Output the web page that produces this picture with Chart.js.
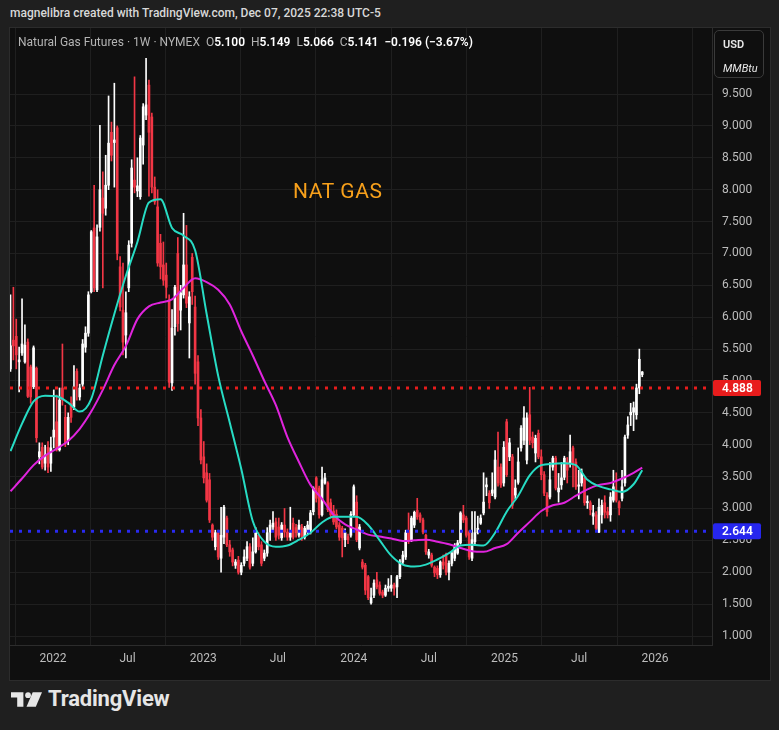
<!DOCTYPE html>
<html>
<head>
<meta charset="utf-8">
<script src="https://cdn.jsdelivr.net/npm/chart.js@4.4.1/dist/chart.umd.min.js"></script>
<style>
  html, body { margin: 0; padding: 0; width: 779px; height: 730px; overflow: hidden; background: #1f1f1f; font-family: Roboto, "Noto Sans", sans-serif; }
  #byline { position: absolute; left: 10px; top: 6px; color: #d8d8d8; font-size: 12px; font-weight: 500; white-space: nowrap; }
  #panel { position: absolute; left: 9px; top: 27px; width: 762px; height: 654px; background: #0f0f0f; border: 1px solid #2c2c2c; box-sizing: border-box; }
  #wrap { position: absolute; left: 10px; top: 28px; width: 760px; height: 652px; }
  #legend { position: absolute; left: 18px; top: 35px; font-size: 12px; color: #b4b4b4; white-space: nowrap; }
  #legend b { color: #ffffff; font-weight: 600; }
  #legend span { margin-left: 6px; }
  #unit { position: absolute; left: 714px; top: 30px; width: 50px; height: 48px; border: 1px solid #3a3a3a; border-radius: 5px; box-sizing: border-box; color: #e8e8e8; font-size: 11px; }
  #unit div { position: absolute; left: 8px; }
  #natgas { position: absolute; left: 293px; top: 179px; color: #f7a01b; font-size: 21px; letter-spacing: 0.6px; }
  #logo { position: absolute; left: 11px; top: 686px; color: #e6e6e6; font-size: 22px; font-weight: 700; white-space: nowrap; letter-spacing: -0.2px; }
  #logo svg { vertical-align: -1px; margin-right: 6px; }
</style>
</head>
<body>
<div id="byline">magnelibra created with TradingView.com, Dec 07, 2025 22:38 UTC-5</div>
<div id="panel"></div>
<div id="wrap"><canvas id="chart"></canvas></div>
<div id="legend">Natural Gas Futures · 1W · NYMEX<span>O<b>5.100</b></span><span>H<b>5.149</b></span><span>L<b>5.066</b></span><span>C<b>5.141</b></span><span><b>−0.196 (−3.67%)</b></span></div>
<div id="unit"><div style="top:7px;font-weight:600">USD</div><div style="top:31px;font-style:italic">MMBtu</div></div>
<div id="natgas">NAT GAS</div>
<div id="logo"><svg width="31" height="15" viewBox="0 0 30 14"><path d="M0 0H12V14H6V5H0Z" fill="#e6e6e6"/><circle cx="16.5" cy="2.8" r="2.8" fill="#e6e6e6"/><path d="M21 0H30L24 14H15Z" fill="#e6e6e6"/></svg>TradingView</div>

<script>
// weekly candles, first one = week of 2021-09-20 (days counted from 2022-01-01)
const firstDay = -103;

const opens = [
  5.19, 5.64, 5.70, 5.30, 5.44, 5.30, 5.61, 5.22, 4.91, 5.20,
  3.81, 3.96, 3.71, 3.96, 3.71, 4.12, 4.36, 3.92, 4.89, 4.43,
  4.07, 4.65, 4.59, 5.15, 4.75, 4.95, 5.53, 5.75, 6.40, 7.40,
  6.43, 7.41, 7.87, 7.71, 8.07, 8.90, 8.74, 8.97, 6.79, 6.11,
  5.72, 6.46, 7.16, 8.15, 7.98, 7.89, 8.70, 9.17, 9.64, 9.14,
  8.04, 7.73, 7.16, 6.82, 6.66, 6.27, 4.97, 5.85, 7.00, 6.11,
  6.35, 6.82, 5.91, 6.94, 6.16, 5.30, 4.42, 3.81, 3.56, 3.45,
  2.74, 2.40, 2.62, 2.22, 2.55, 2.85, 2.43, 2.35, 2.11, 2.19,
  2.00, 2.14, 2.22, 2.40, 2.14, 2.32, 2.58, 2.43, 2.22, 2.30,
  2.63, 2.71, 2.79, 2.71, 2.54, 2.74, 2.63, 2.55, 2.77, 2.70,
  2.58, 2.71, 2.55, 2.63, 2.66, 2.95, 3.48, 3.32, 2.90, 3.40,
  3.40, 3.09, 2.96, 2.91, 2.74, 2.69, 2.51, 2.56, 2.58, 2.90,
  3.10, 2.38, 2.16, 2.11, 1.93, 1.52, 1.64, 1.88, 1.80, 1.69,
  1.64, 1.75, 1.75, 1.80, 1.77, 1.93, 2.16, 2.24, 2.66, 2.51,
  2.74, 2.97, 2.90, 2.82, 2.58, 2.27, 2.27, 2.08, 2.06, 1.96,
  2.16, 2.27, 2.00, 2.14, 2.22, 2.30, 2.46, 2.90, 2.85, 2.63,
  2.22, 2.48, 2.62, 2.77, 2.93, 3.34, 3.24, 3.24, 3.18, 3.65,
  3.65, 3.40, 4.36, 3.81, 3.81, 3.21, 3.41, 3.95, 4.07, 3.76,
  4.47, 4.12, 3.87, 4.18, 3.81, 3.53, 3.21, 3.18, 3.65, 3.79,
  3.26, 3.37, 3.49, 3.73, 3.71, 3.95, 3.73, 3.35, 3.40, 3.48,
  3.09, 3.09, 2.88, 2.90, 2.63, 2.90, 3.09, 2.95, 2.90, 3.13,
  3.29, 3.10, 3.16, 3.40, 4.15, 4.47, 4.51, 4.47, 4.89, 5.100
];
const highs = [
  6.35, 6.47, 5.97, 5.53, 6.29, 5.88, 5.66, 5.25, 5.55, 5.22,
  4.03, 4.03, 3.99, 4.05, 4.12, 4.86, 4.78, 4.89, 5.58, 4.62,
  4.50, 4.75, 5.24, 5.19, 4.95, 5.65, 5.85, 6.40, 7.36, 8.07,
  7.45, 9.01, 8.28, 8.54, 9.47, 9.06, 9.67, 9.00, 6.95, 6.85,
  6.40, 7.20, 8.47, 9.77, 8.50, 8.85, 9.35, 10.06, 9.72, 9.20,
  8.20, 8.00, 7.30, 7.18, 6.85, 6.35, 6.12, 6.50, 7.25, 6.50,
  7.63, 7.44, 6.40, 7.00, 6.33, 5.40, 4.55, 4.05, 3.70, 3.55,
  2.76, 2.66, 2.66, 3.02, 3.05, 2.88, 2.50, 2.38, 2.20, 2.25,
  2.15, 2.35, 2.48, 2.45, 2.54, 2.70, 2.62, 2.48, 2.35, 2.70,
  2.82, 2.95, 2.85, 2.85, 2.78, 3.00, 2.68, 3.02, 2.85, 2.75,
  2.82, 2.75, 2.72, 2.80, 2.97, 3.34, 3.50, 3.35, 3.65, 3.55,
  3.42, 3.15, 3.05, 2.98, 2.78, 2.72, 2.68, 2.60, 2.95, 3.37,
  3.20, 2.75, 2.20, 2.14, 1.95, 1.75, 1.88, 2.00, 1.85, 1.72,
  1.80, 1.90, 1.95, 1.83, 1.95, 2.20, 2.33, 2.66, 2.93, 2.88,
  2.96, 3.16, 2.93, 2.85, 2.60, 2.36, 2.30, 2.10, 2.10, 2.18,
  2.27, 2.30, 2.18, 2.33, 2.45, 2.50, 2.95, 3.05, 2.88, 2.65,
  2.95, 2.95, 2.88, 2.90, 3.56, 3.48, 3.28, 3.56, 3.91, 4.20,
  3.70, 4.05, 4.40, 4.10, 3.85, 3.45, 3.95, 4.30, 4.60, 4.50,
  4.90, 4.20, 4.15, 4.23, 3.92, 3.58, 3.25, 3.72, 3.82, 3.82,
  3.55, 3.72, 3.82, 3.80, 4.15, 3.98, 3.78, 3.60, 3.62, 3.50,
  3.20, 3.12, 3.05, 2.95, 3.15, 3.13, 3.20, 3.02, 3.25, 3.60,
  3.56, 3.12, 3.60, 4.15, 4.44, 4.65, 4.67, 4.95, 5.50, 5.149
];
const lows = [
  5.15, 5.33, 5.19, 4.83, 5.40, 5.28, 4.74, 4.65, 4.88, 4.04,
  3.70, 3.62, 3.60, 3.56, 3.58, 3.95, 3.90, 3.90, 4.62, 3.97,
  4.00, 4.35, 4.55, 4.70, 4.70, 4.90, 5.45, 5.70, 6.38, 6.40,
  6.40, 7.35, 6.46, 7.60, 8.00, 8.45, 8.04, 6.90, 6.10, 5.41,
  5.36, 6.40, 7.10, 7.95, 7.89, 7.85, 8.40, 9.10, 7.90, 7.95,
  7.77, 6.80, 6.60, 6.50, 6.30, 4.90, 4.85, 5.72, 5.78, 5.80,
  6.30, 6.15, 5.36, 6.20, 4.95, 4.30, 3.70, 3.40, 3.10, 2.78,
  2.50, 2.35, 2.20, 2.00, 2.45, 2.40, 2.25, 2.10, 2.06, 1.97,
  1.96, 2.10, 2.18, 2.05, 2.10, 2.30, 2.35, 2.10, 2.18, 2.25,
  2.50, 2.65, 2.50, 2.52, 2.50, 2.55, 2.50, 2.50, 2.52, 2.55,
  2.55, 2.50, 2.52, 2.60, 2.60, 2.90, 3.10, 2.85, 2.88, 3.38,
  2.95, 2.85, 2.75, 2.68, 2.50, 2.24, 2.40, 2.45, 2.55, 2.88,
  2.48, 2.35, 2.05, 1.65, 1.57, 1.50, 1.60, 1.74, 1.64, 1.60,
  1.62, 1.70, 1.70, 1.64, 1.60, 1.90, 2.12, 2.20, 2.45, 2.48,
  2.70, 2.83, 2.78, 2.60, 2.28, 2.22, 2.08, 1.93, 1.90, 1.92,
  2.05, 1.96, 1.88, 2.10, 2.18, 2.28, 2.44, 2.78, 2.55, 2.20,
  2.18, 2.45, 2.60, 2.75, 2.90, 3.20, 3.00, 3.20, 3.15, 3.35,
  3.33, 3.35, 3.50, 3.75, 3.00, 3.15, 3.38, 3.90, 4.00, 3.70,
  4.00, 3.95, 3.73, 3.78, 3.45, 3.20, 2.88, 3.15, 3.60, 3.29,
  3.10, 3.30, 3.45, 3.40, 3.65, 3.34, 3.30, 3.15, 3.35, 3.05,
  3.00, 2.90, 2.75, 2.64, 2.62, 2.77, 2.85, 2.85, 2.80, 3.10,
  3.10, 2.90, 3.12, 3.35, 4.10, 4.30, 4.22, 4.40, 4.80, 5.066
];
const closes = [
  5.55, 5.55, 5.41, 5.33, 5.58, 5.56, 4.76, 4.75, 5.52, 4.11,
  3.89, 3.65, 3.84, 3.65, 3.95, 4.23, 3.92, 4.70, 4.70, 4.03,
  4.43, 4.43, 4.91, 4.92, 4.89, 5.58, 5.75, 6.35, 7.34, 6.46,
  7.26, 8.00, 7.63, 8.07, 8.73, 8.54, 8.78, 7.00, 6.16, 5.61,
  6.07, 7.13, 8.34, 8.04, 8.06, 8.81, 9.30, 9.33, 8.90, 8.04,
  7.81, 6.85, 6.79, 6.58, 6.47, 4.98, 5.83, 6.47, 5.90, 6.38,
  6.82, 6.22, 6.32, 6.40, 5.12, 4.42, 3.76, 3.48, 3.13, 2.82,
  2.55, 2.62, 2.24, 2.58, 3.02, 2.43, 2.32, 2.16, 2.16, 2.00,
  2.11, 2.24, 2.40, 2.08, 2.32, 2.62, 2.40, 2.14, 2.30, 2.62,
  2.74, 2.77, 2.55, 2.58, 2.74, 2.63, 2.55, 2.62, 2.55, 2.62,
  2.74, 2.55, 2.69, 2.74, 2.93, 3.32, 3.16, 2.90, 3.45, 3.48,
  2.98, 2.90, 2.79, 2.71, 2.55, 2.54, 2.62, 2.51, 2.91, 3.34,
  2.51, 2.71, 2.08, 1.72, 1.60, 1.60, 1.83, 1.77, 1.67, 1.64,
  1.75, 1.78, 1.80, 1.75, 1.93, 2.16, 2.27, 2.62, 2.51, 2.85,
  2.94, 2.87, 2.82, 2.63, 2.32, 2.32, 2.11, 1.99, 1.96, 2.16,
  2.11, 2.00, 2.14, 2.30, 2.40, 2.46, 2.93, 2.82, 2.58, 2.24,
  2.51, 2.62, 2.69, 2.85, 3.10, 3.37, 3.09, 3.29, 3.76, 3.40,
  3.37, 3.96, 3.53, 4.03, 3.05, 3.32, 3.73, 4.26, 4.42, 4.42,
  4.07, 4.03, 4.10, 3.81, 3.53, 3.24, 2.95, 3.45, 3.79, 3.32,
  3.32, 3.48, 3.79, 3.60, 3.89, 3.71, 3.34, 3.37, 3.57, 3.09,
  3.11, 2.98, 2.93, 2.69, 3.02, 3.05, 2.94, 2.90, 3.18, 3.34,
  3.13, 3.01, 3.34, 4.12, 4.31, 4.51, 4.58, 4.89, 5.34, 5.141
];

// moving averages every 4 weeks (week index of the candle)
const maWeeks = [0, 4, 8, 12, 16, 20, 24, 28, 32, 36, 40, 44, 48, 52, 56, 60, 64, 68, 72, 76,
  80, 84, 88, 92, 96, 100, 104, 108, 112, 116, 120, 124, 128, 132, 136, 140, 144, 148, 152, 156,
  160, 164, 168, 172, 176, 180, 184, 188, 192, 196, 200, 204, 208, 212, 216, 219];
const tealMA = [3.90, 4.33, 4.68, 4.77, 4.76, 4.66, 4.52, 4.72, 5.40, 6.05,
  6.65, 7.18, 7.80, 7.85, 7.40, 7.28, 7.05, 6.05, 5.08, 4.35,
  3.62, 2.80, 2.48, 2.40, 2.42, 2.51, 2.62, 2.78, 2.87, 2.87,
  2.87, 2.74, 2.50, 2.26, 2.12, 2.09, 2.12, 2.20, 2.30, 2.42,
  2.43, 2.42, 2.62, 2.95, 3.20, 3.52, 3.68, 3.70, 3.71, 3.68,
  3.45, 3.35, 3.30, 3.26, 3.38, 3.60];
const magentaMA = [3.27, 3.47, 3.68, 3.83, 3.94, 4.06, 4.25, 4.52, 4.86, 5.25,
  5.55, 5.97, 6.17, 6.23, 6.28, 6.46, 6.61, 6.55, 6.43, 6.20,
  5.78, 5.40, 5.00, 4.62, 4.12, 3.73, 3.37, 3.15, 2.90, 2.75,
  2.67, 2.59, 2.56, 2.53, 2.49, 2.50, 2.51, 2.48, 2.44, 2.38,
  2.33, 2.32, 2.38, 2.44, 2.62, 2.79, 2.96, 3.05, 3.09, 3.20,
  3.30, 3.37, 3.40, 3.47, 3.56, 3.64];

// horizontal levels
const redLevel = 4.888;
const blueLevel = 2.644;

// axes
const priceTicks = [1.0, 1.5, 2.0, 2.5, 3.0, 3.5, 4.0, 4.5, 5.0, 5.5, 6.0, 6.5, 7.0, 7.5, 8.0, 8.5, 9.0, 9.5];
const timeTickDays = [0, 181, 365, 546, 730, 912, 1096, 1277, 1461];
const timeTickLabels = ['2022', 'Jul', '2023', 'Jul', '2024', 'Jul', '2025', 'Jul', '2026'];
const xMin = -104.2, xMax = 1599.3;
const yMin = 0.859, yMax = 10.536;

const upColor = '#ffffff';
const downColor = '#f23645';
const dayOf = i => firstDay + 7 * i;

const candleColors = opens.map((o, i) => closes[i] >= o ? upColor : downColor);
const wickData = lows.map((l, i) => ({ x: dayOf(i), y: [l, highs[i]] }));
const bodyData = opens.map((o, i) => ({ x: dayOf(i), y: [o, closes[i]] }));
const tealData = maWeeks.map((w, k) => ({ x: dayOf(w), y: tealMA[k] }));
const magentaData = maWeeks.map((w, k) => ({ x: dayOf(w), y: magentaMA[k] }));

const priceTags = {
  id: 'priceTags',
  afterDraw(chart) {
    const { ctx, chartArea, scales } = chart;
    [[redLevel, '#e81c1c'], [blueLevel, '#2626ee']].forEach(([v, c]) => {
      const y = scales.y.getPixelForValue(v);
      ctx.save();
      ctx.fillStyle = c;
      ctx.beginPath();
      ctx.roundRect(chartArea.right + 1, y - 8, 48, 16, 2);
      ctx.fill();
      ctx.fillStyle = '#ffffff';
      ctx.font = '600 12px Roboto, sans-serif';
      ctx.textBaseline = 'middle';
      ctx.fillText(v.toFixed(3), chartArea.right + 10, y + 1);
      ctx.restore();
    });
  }
};

new Chart(document.getElementById('chart'), {
  type: 'bar',
  data: {
    datasets: [
      {
        type: 'line', data: [{ x: xMin, y: redLevel }, { x: xMax, y: redLevel }],
        borderColor: '#e81c1c', borderWidth: 3, borderDash: [3, 6], pointRadius: 0, order: 0
      },
      {
        type: 'line', data: [{ x: xMin, y: blueLevel }, { x: xMax, y: blueLevel }],
        borderColor: '#2a2af0', borderWidth: 3, borderDash: [3, 6], pointRadius: 0, order: 0
      },
      {
        type: 'line', data: tealData, borderColor: '#27dcc4', borderWidth: 2,
        pointRadius: 0, cubicInterpolationMode: 'monotone', order: 1
      },
      {
        type: 'line', data: magentaData, borderColor: '#e024dd', borderWidth: 2,
        pointRadius: 0, cubicInterpolationMode: 'monotone', order: 2
      },
      {
        data: bodyData, backgroundColor: candleColors, barThickness: 2,
        minBarLength: 1, grouped: false, borderWidth: 0, order: 3
      },
      {
        data: wickData, backgroundColor: candleColors, barThickness: 1,
        grouped: false, borderWidth: 0, order: 4
      }
    ]
  },
  options: {
    responsive: true,
    maintainAspectRatio: false,
    animation: false,
    layout: { padding: 0 },
    plugins: { legend: { display: false }, tooltip: { enabled: false } },
    scales: {
      x: {
        type: 'linear', min: xMin, max: xMax, offset: false,
        afterBuildTicks: s => { s.ticks = timeTickDays.map(v => ({ value: v })); },
        afterFit: s => { s.height = 35; s.paddingLeft = 0; s.paddingRight = 0; },
        grid: { color: '#1f1f1f', drawTicks: false },
        border: { color: '#2c2c2c' },
        ticks: {
          color: '#bdbdbd', font: { family: 'Roboto', size: 12 }, padding: 7, maxRotation: 0,
          callback: (v, i) => timeTickLabels[i]
        }
      },
      y: {
        type: 'linear', position: 'right', min: yMin, max: yMax,
        afterBuildTicks: s => { s.ticks = priceTicks.map(v => ({ value: v })); },
        afterFit: s => { s.width = 58; s.paddingTop = 0; s.paddingBottom = 0; },
        grid: { color: '#1f1f1f', drawTicks: false },
        border: { color: '#2c2c2c' },
        ticks: {
          color: '#bdbdbd', font: { family: 'Roboto', size: 12 }, padding: 10,
          callback: v => v.toFixed(3)
        }
      }
    }
  },
  plugins: [priceTags]
});
</script>
</body>
</html>
